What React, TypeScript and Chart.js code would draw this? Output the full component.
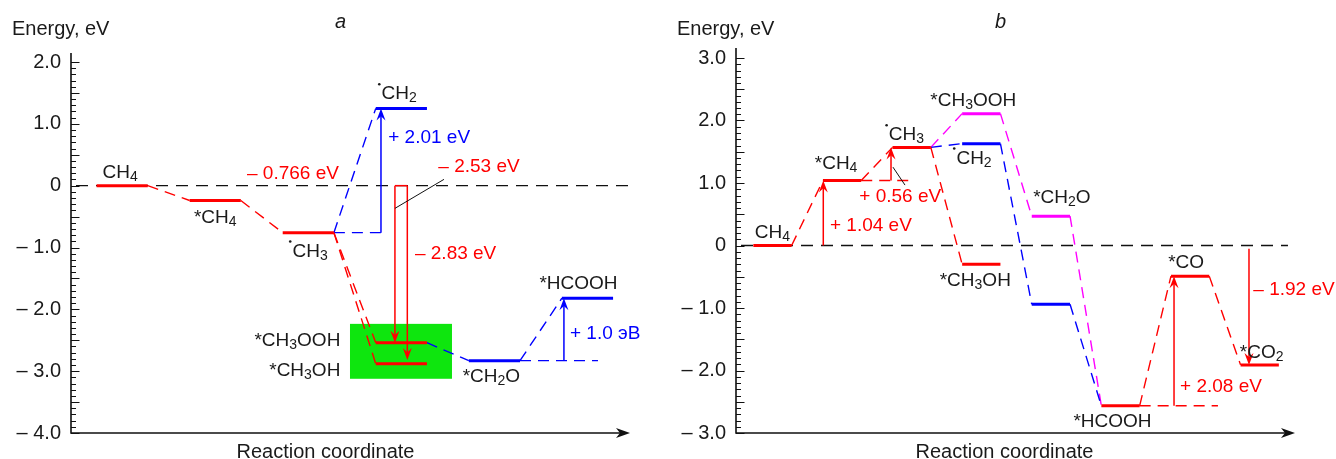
import { useEffect, useRef } from 'react';
import Chart from 'chart.js/auto';

const FONT = "'Liberation Sans', Arial, sans-serif";
const RED = '#ff0000';
const BLUE = '#0000ff';
const MAGENTA = '#ff00ff';
const INK = '#1a1a1a';

// ================= Panel a data =================
const aStates = ['CH_4', '*CH_4', '•CH_3', '•CH_2', '*CH_3OOH', '*CH_3OH', '*CH_2O', '*HCOOH'];
const aSteps = [0, 1, 2, 3, 3, 3, 4, 5];
const aEnergies = [0, -0.24, -0.76, 1.25, -2.54, -2.88, -2.83, -1.82];
const aRedStates = [0, 1, 2, 4, 5];
const aBlueStates = [3, 6, 7];
const aRedLinks = [[0, 1], [1, 2], [2, 4], [2, 5]];
const aBlueLinks = [[2, 3], [4, 6], [6, 7]];
const aYTickValues = [2, 1, 0, -1, -2, -3, -4];
const aYTickLabels = ['2.0', '1.0', '0', '\u2013 1.0', '\u2013 2.0', '\u2013 3.0', '\u2013 4.0'];
const aArrowSteps = [2.781, 2.931, 3.064, 4.747];
const aArrowFrom = [-0.76, 0, 0, -2.83];
const aArrowTo = [1.25, -2.54, -2.82, -1.82];
const aDeltaTexts = ['\u2013 0.766 eV', '+ 2.01 eV', '\u2013 2.53 eV', '\u2013 2.83 eV', '+ 1.0 эВ'];

// ================= Panel b data =================
const bStates = ['CH_4', '*CH_4', '•CH_3', '*CH_3OOH', '•CH_2', '*CH_3OH', '*CH_2O', '', '*HCOOH', '*CO', '*CO_2'];
const bSteps = [0, 1, 2, 3, 3, 3, 4, 4, 5, 6, 7];
const bEnergies = [0, 1.04, 1.57, 2.11, 1.63, -0.3, 0.47, -0.94, -2.565, -0.49, -1.91];
const bRedStates = [0, 1, 2, 5, 8, 9, 10];
const bBlueStates = [4, 7];
const bMagentaStates = [3, 6];
const bRedLinks = [[0, 1], [1, 2], [2, 5], [8, 9], [9, 10]];
const bBlueLinks = [[2, 4], [4, 7], [7, 8]];
const bMagentaLinks = [[2, 3], [3, 6], [6, 8]];
const bYTickValues = [3, 2, 1, 0, -1, -2, -3];
const bYTickLabels = ['3.0', '2.0', '1.0', '0', '\u2013 1.0', '\u2013 2.0', '\u2013 3.0'];
const bArrowSteps = [0.73, 1.703, 5.769, 6.846];
const bArrowFrom = [0, 1.04, -2.565, -0.05];
const bArrowTo = [1.04, 1.57, -0.49, -1.91];
const bDeltaTexts = ['+ 1.04 eV', '+ 0.56 eV', '+ 2.08 eV', '\u2013 1.92 eV'];

// ================= layout (not data) =================
const HW = 0.275; // half width of an energy level in step units

type Spec = {
  title: string;
  xMin: number; xMax: number; yMin: number; yMax: number;
  padRight: number; padTop: number; padBottom: number; leftWidth: number;
  axisTop: number; zeroEnd: number;
  states: string[]; steps: number[]; energies: number[]; stateColors: string[];
  links: { a: number; b: number; color: string }[];
  refs: { a: number; end: number; color: string }[];
  tickValues: number[]; tickLabels: string[];
  arrows: { step: number; from: number; to: number; color: string }[];
  labelOffsets: [number, number, 'center' | 'right'][];
  deltas: { text: string; step: number; e: number; color: string }[];
  leaders: [number, number, number, number][];
  highlight?: [number, number, number, number];
  header: { ex: number; tx: number; rcx: number };
};

function colorsFor(n: number, groups: [number[], string][]) {
  const c: string[] = new Array(n).fill(RED);
  groups.forEach(([idx, col]) => idx.forEach((i) => (c[i] = col)));
  return c;
}

const specA: Spec = {
  title: 'a',
  xMin: -0.55, xMax: 5.457, yMin: -4, yMax: 2,
  padRight: 38, padTop: 62, padBottom: 26, leftWidth: 71,
  axisTop: 53, zeroEnd: 5.478,
  states: aStates, steps: aSteps, energies: aEnergies,
  stateColors: colorsFor(aStates.length, [[aRedStates, RED], [aBlueStates, BLUE]]),
  links: [
    ...aRedLinks.map(([a, b]) => ({ a, b, color: RED })),
    ...aBlueLinks.map(([a, b]) => ({ a, b, color: BLUE })),
  ],
  refs: [
    { a: 2, end: 2.835, color: BLUE },
    { a: 6, end: 5.113, color: BLUE },
  ],
  tickValues: aYTickValues, tickLabels: aYTickLabels,
  arrows: aArrowSteps.map((s, i) => ({ step: s, from: aArrowFrom[i], to: aArrowTo[i], color: i === 0 || i === 3 ? BLUE : RED })),
  labelOffsets: [
    [-2, -8, 'center'], [0, 22, 'center'], [0, 24, 'center'], [-4, -9, 'center'],
    [-61, 3, 'right'], [-61, 12, 'right'], [-3, 21, 'center'], [-9, -9, 'center'],
  ],
  deltas: [
    { text: aDeltaTexts[0], step: 1.341, e: 0.107, color: RED },
    { text: aDeltaTexts[1], step: 2.859, e: 0.683, color: BLUE },
    { text: aDeltaTexts[2], step: 3.397, e: 0.215, color: RED },
    { text: aDeltaTexts[3], step: 3.146, e: -1.19, color: RED },
    { text: aDeltaTexts[4], step: 4.812, e: -2.477, color: BLUE },
  ],
  leaders: [[3.458, 0.102, 2.931, -0.367]],
  highlight: [2.448, 3.544, -2.235, -3.123],
  header: { ex: 12, tx: 335, rcx: 325.5 },
};

const specB: Spec = {
  title: 'b',
  xMin: -0.524, xMax: 7.507, yMin: -3, yMax: 3,
  padRight: 41, padTop: 58, padBottom: 26, leftWidth: 68,
  axisTop: 48, zeroEnd: 7.406,
  states: bStates, steps: bSteps, energies: bEnergies,
  stateColors: colorsFor(bStates.length, [[bRedStates, RED], [bBlueStates, BLUE], [bMagentaStates, MAGENTA]]),
  links: [
    ...bRedLinks.map(([a, b]) => ({ a, b, color: RED })),
    ...bBlueLinks.map(([a, b]) => ({ a, b, color: BLUE })),
    ...bMagentaLinks.map(([a, b]) => ({ a, b, color: MAGENTA })),
  ],
  refs: [
    { a: 1, end: 2.047, color: RED },
    { a: 8, end: 6.4, color: RED },
  ],
  tickValues: bYTickValues, tickLabels: bYTickLabels,
  arrows: bArrowSteps.map((s, i) => ({ step: s, from: bArrowFrom[i], to: bArrowTo[i], color: RED })),
  labelOffsets: [
    [0, -8, 'center'], [-6, -12, 'center'], [-7, -7, 'center'], [-8, -8, 'center'],
    [-9, 20, 'center'], [-6, 22, 'center'], [11, -13, 'center'], [0, 0, 'center'],
    [-8, 21, 'center'], [-4, -8, 'center'], [2, -7, 'center'],
  ],
  deltas: [
    { text: bDeltaTexts[0], step: 0.826, e: 0.232, color: RED },
    { text: bDeltaTexts[1], step: 1.247, e: 0.7, color: RED },
    { text: bDeltaTexts[2], step: 5.855, e: -2.336, color: RED },
    { text: bDeltaTexts[3], step: 6.908, e: -0.791, color: RED },
  ],
  leaders: [[1.731, 1.254, 1.904, 0.967]],
  header: { ex: 9, tx: 327, rcx: 336.5 },
};

function drawRich(ctx: CanvasRenderingContext2D, text: string, x: number, y: number, align: string, color: string, size = 19) {
  const segs: { t: string; sub: boolean; dot: boolean }[] = [];
  let i = 0;
  while (i < text.length) {
    const ch = text[i];
    if (ch === '•') { segs.push({ t: '', sub: false, dot: true }); i++; continue; }
    if (ch === '_') { segs.push({ t: text[i + 1], sub: true, dot: false }); i += 2; continue; }
    let s = '';
    while (i < text.length && text[i] !== '_' && text[i] !== '•') { s += text[i]; i++; }
    segs.push({ t: s, sub: false, dot: false });
  }
  const main = `${size}px ${FONT}`;
  const subf = `${Math.round(size * 0.74)}px ${FONT}`;
  let w = 0;
  segs.forEach((g) => {
    if (g.dot) { w += 3.5; return; }
    ctx.font = g.sub ? subf : main;
    w += ctx.measureText(g.t).width;
  });
  let cx = align === 'center' ? x - w / 2 : align === 'right' ? x - w : x;
  ctx.fillStyle = color;
  ctx.textBaseline = 'alphabetic';
  ctx.textAlign = 'left';
  segs.forEach((g) => {
    if (g.dot) {
      ctx.beginPath();
      ctx.arc(cx + 1.3, y - size * 0.8, 1.3, 0, Math.PI * 2);
      ctx.fill();
      cx += 3.5;
      return;
    }
    ctx.font = g.sub ? subf : main;
    ctx.fillText(g.t, cx, g.sub ? y + 3 : y);
    cx += ctx.measureText(g.t).width;
  });
}

function drawArrow(ctx: CanvasRenderingContext2D, x: number, y1: number, y2: number, color: string) {
  const dir = Math.sign(y2 - y1);
  const L = 12;
  const W = 4.5;
  ctx.save();
  ctx.strokeStyle = color;
  ctx.fillStyle = color;
  ctx.lineWidth = 1.5;
  ctx.setLineDash([]);
  ctx.beginPath();
  ctx.moveTo(x, y1);
  ctx.lineTo(x, y2 - dir * L * 0.6);
  ctx.stroke();
  ctx.beginPath();
  ctx.moveTo(x, y2);
  ctx.lineTo(x - W, y2 - dir * L);
  ctx.lineTo(x, y2 - dir * L * 0.65);
  ctx.lineTo(x + W, y2 - dir * L);
  ctx.closePath();
  ctx.fill();
  ctx.restore();
}

function buildConfig(p: Spec): any {
  const datasets: any[] = [];
  const lineBase = { pointRadius: 0, clip: false, tension: 0, fill: false };
  p.steps.forEach((s, i) => {
    datasets.push({
      ...lineBase,
      data: [{ x: s - HW, y: p.energies[i] }, { x: s + HW, y: p.energies[i] }],
      borderColor: p.stateColors[i], borderWidth: 3, borderCapStyle: 'butt',
    });
  });
  p.links.forEach(({ a, b, color }) => {
    datasets.push({
      ...lineBase,
      data: [{ x: p.steps[a] + HW, y: p.energies[a] }, { x: p.steps[b] - HW, y: p.energies[b] }],
      borderColor: color, borderWidth: 1.4, borderDash: [11, 7],
    });
  });
  p.refs.forEach(({ a, end, color }) => {
    datasets.push({
      ...lineBase,
      data: [{ x: p.steps[a] + HW, y: p.energies[a] }, { x: end, y: p.energies[a] }],
      borderColor: color, borderWidth: 1.4, borderDash: [11, 7],
    });
  });
  datasets.push({
    ...lineBase,
    data: [{ x: p.xMin, y: 0 }, { x: p.zeroEnd, y: 0 }],
    borderColor: '#111', borderWidth: 1.3, borderDash: [12, 8], borderDashOffset: -5,
  });

  const plugin = {
    id: 'energy-' + p.title,
    beforeDatasetsDraw(chart: any) {
      const { ctx, scales } = chart;
      const xs = scales.x;
      const ys = scales.y;
      if (p.highlight) {
        const [x1, x2, y1, y2] = p.highlight;
        const px1 = xs.getPixelForValue(x1);
        const px2 = xs.getPixelForValue(x2);
        const py1 = ys.getPixelForValue(y1);
        const py2 = ys.getPixelForValue(y2);
        ctx.save();
        ctx.fillStyle = '#0ee60e';
        ctx.fillRect(px1, py1, px2 - px1, py2 - py1);
        ctx.restore();
      }
    },
    afterDatasetsDraw(chart: any) {
      const { ctx, scales, chartArea } = chart;
      const xs = scales.x;
      const ys = scales.y;
      const L = chartArea.left;
      const B = chartArea.bottom;
      const R = chartArea.right;
      ctx.save();
      ctx.setLineDash([]);
      // axes
      ctx.strokeStyle = '#111';
      ctx.fillStyle = '#111';
      ctx.lineWidth = 1.6;
      ctx.beginPath();
      ctx.moveTo(L, p.axisTop);
      ctx.lineTo(L, B);
      ctx.lineTo(R - 6, B);
      ctx.stroke();
      ctx.beginPath();
      ctx.moveTo(R, B);
      ctx.lineTo(R - 14, B - 5);
      ctx.lineTo(R - 10, B);
      ctx.lineTo(R - 14, B + 5);
      ctx.closePath();
      ctx.fill();
      // minor ticks every 0.1
      ctx.lineWidth = 1;
      const n = Math.round((p.yMax - p.yMin) * 10);
      for (let k = 0; k <= n; k++) {
        const v = p.yMin + k / 10;
        const py = Math.round(ys.getPixelForValue(v)) + 0.5;
        const len = k % 5 === 0 ? 8.5 : 5;
        ctx.beginPath();
        ctx.moveTo(L, py);
        ctx.lineTo(L + len, py);
        ctx.stroke();
      }
      // arrows
      p.arrows.forEach((a) => {
        drawArrow(ctx, xs.getPixelForValue(a.step), ys.getPixelForValue(a.from), ys.getPixelForValue(a.to), a.color);
      });
      // bracket joining red arrows in panel a
      if (p.title === 'a') {
        ctx.strokeStyle = RED;
        ctx.lineWidth = 1.5;
        ctx.beginPath();
        ctx.moveTo(xs.getPixelForValue(p.arrows[1].step), ys.getPixelForValue(0));
        ctx.lineTo(xs.getPixelForValue(p.arrows[2].step), ys.getPixelForValue(0));
        ctx.stroke();
      }
      // leader lines
      ctx.strokeStyle = '#111';
      ctx.lineWidth = 1;
      p.leaders.forEach(([s1, e1, s2, e2]) => {
        ctx.beginPath();
        ctx.moveTo(xs.getPixelForValue(s1), ys.getPixelForValue(e1));
        ctx.lineTo(xs.getPixelForValue(s2), ys.getPixelForValue(e2));
        ctx.stroke();
      });
      // level labels
      p.states.forEach((t, i) => {
        if (!t) return;
        const [dx, dy, al] = p.labelOffsets[i];
        drawRich(ctx, t, xs.getPixelForValue(p.steps[i]) + dx, ys.getPixelForValue(p.energies[i]) + dy, al, INK, 19);
      });
      // delta labels
      p.deltas.forEach((d) => {
        drawRich(ctx, d.text, xs.getPixelForValue(d.step), ys.getPixelForValue(d.e), 'left', d.color, 19);
      });
      // headers
      drawRich(ctx, 'Energy, eV', p.header.ex, 35, 'left', INK, 20);
      ctx.font = `italic 20px ${FONT}`;
      ctx.fillStyle = INK;
      ctx.textAlign = 'left';
      ctx.fillText(p.title, p.header.tx, 28);
      drawRich(ctx, 'Reaction coordinate', p.header.rcx, 458, 'center', INK, 20);
      ctx.restore();
    },
  };

  return {
    type: 'line',
    data: { datasets },
    options: {
      responsive: false,
      animation: false,
      devicePixelRatio: 1,
      events: [],
      layout: { padding: { left: 0, right: p.padRight, top: p.padTop, bottom: p.padBottom } },
      plugins: { legend: { display: false }, tooltip: { enabled: false } },
      scales: {
        x: { type: 'linear', min: p.xMin, max: p.xMax, display: false },
        y: {
          type: 'linear', min: p.yMin, max: p.yMax,
          afterFit: (s: any) => { s.width = p.leftWidth; },
          grid: { display: false, drawTicks: false },
          border: { display: false },
          ticks: {
            stepSize: 1, autoSkip: false, includeBounds: false, padding: 10,
            color: INK, font: { family: FONT, size: 20 },
            callback: (v: number) => {
              const idx = p.tickValues.findIndex((t) => Math.abs(t - v) < 1e-6);
              return idx >= 0 ? p.tickLabels[idx] : '';
            },
          },
        },
      },
    },
    plugins: [plugin],
  };
}

export default function App() {
  const refA = useRef<HTMLCanvasElement>(null);
  const refB = useRef<HTMLCanvasElement>(null);
  useEffect(() => {
    const ca = new Chart(refA.current as HTMLCanvasElement, buildConfig(specA));
    const cb = new Chart(refB.current as HTMLCanvasElement, buildConfig(specB));
    return () => { ca.destroy(); cb.destroy(); };
  }, []);
  return (
    <div style={{ position: 'absolute', left: 0, top: 0, width: 1336, height: 459, background: '#fff' }}>
      <canvas ref={refA} width={668} height={459} style={{ position: 'absolute', left: 0, top: 0, width: 668, height: 459 }} />
      <canvas ref={refB} width={668} height={459} style={{ position: 'absolute', left: 668, top: 0, width: 668, height: 459 }} />
    </div>
  );
}
